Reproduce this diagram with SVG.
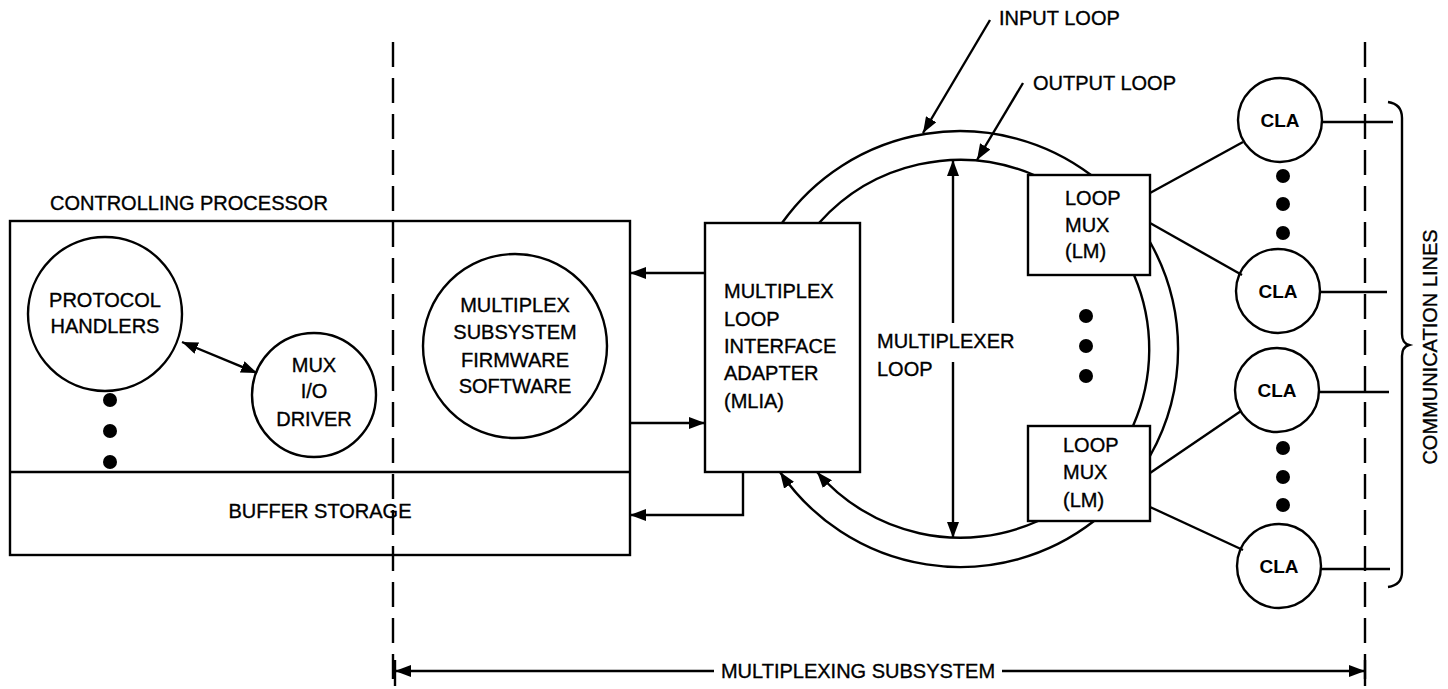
<svg xmlns="http://www.w3.org/2000/svg" width="1448" height="689" viewBox="0 0 1448 689">
<style>
  .ln{fill:none;stroke:#000;stroke-width:2.4}
  .dash{fill:none;stroke:#000;stroke-width:2.4;stroke-dasharray:25 11}
  .t{font-family:"Liberation Sans",Arial,Helvetica,sans-serif;font-size:20px;fill:#000;stroke:#000;stroke-width:0.35}
  .c{text-anchor:middle}
  .b{font-weight:bold;font-size:19px;stroke-width:0}
  .dot{fill:#000}
</style>
<defs>
  <marker id="ah" viewBox="0 0 16 12" refX="16" refY="6" markerWidth="16" markerHeight="12" markerUnits="userSpaceOnUse" orient="auto-start-reverse">
    <path d="M0,0 L16,6 L0,12 z" fill="#000"/>
  </marker>
</defs>
<rect width="1448" height="689" fill="#fff"/>

<g id="boundaries">
  <line class="dash" x1="393" y1="42" x2="393" y2="688"/>
  <line class="dash" x1="1365" y1="42" x2="1365" y2="688"/>
</g>

<g id="controlling-processor">
  <text class="t" x="50" y="210">CONTROLLING PROCESSOR</text>
  <rect class="ln" x="10" y="221" width="620" height="334"/>
  <line class="ln" x1="10" y1="472" x2="630" y2="472"/>
</g>

<g id="buffer-storage">
  <text class="t c" x="320" y="518">BUFFER STORAGE</text>
</g>

<g id="protocol-handlers">
  <circle class="ln" cx="105" cy="314" r="77"/>
  <text class="t c" x="105" y="307">PROTOCOL</text>
  <text class="t c" x="105" y="333">HANDLERS</text>
  <circle class="dot" cx="110" cy="400" r="7"/>
  <circle class="dot" cx="110" cy="431" r="7"/>
  <circle class="dot" cx="110" cy="462" r="7"/>
</g>

<g id="mux-io-driver">
  <circle class="ln" cx="314" cy="395" r="62"/>
  <text class="t c" x="314" y="372">MUX</text>
  <text class="t c" x="314" y="398">I/O</text>
  <text class="t c" x="314" y="426">DRIVER</text>
</g>

<g id="firmware">
  <circle class="ln" cx="515" cy="346" r="92"/>
  <text class="t c" x="515" y="312">MULTIPLEX</text>
  <text class="t c" x="515" y="339">SUBSYSTEM</text>
  <text class="t c" x="515" y="367">FIRMWARE</text>
  <text class="t c" x="515" y="393">SOFTWARE</text>
</g>

<g id="mlia">
  <rect class="ln" x="705" y="223" width="155" height="249"/>
  <text class="t" x="724" y="298">MULTIPLEX</text>
  <text class="t" x="724" y="326">LOOP</text>
  <text class="t" x="724" y="353">INTERFACE</text>
  <text class="t" x="724" y="380">ADAPTER</text>
  <text class="t" x="724" y="408">(MLIA)</text>
</g>

<g id="multiplexer-loop">
  <path class="ln" d="M782 223 A218 218 0 0 1 1091 175"/>
  <path class="ln" d="M1150 242 A218 218 0 0 1 1150 456"/>
  <path class="ln" d="M1094 521 A218 218 0 0 1 780 472" marker-end="url(#ah)"/>
  <path class="ln" d="M819 223 A189 189 0 0 1 1034 175"/>
  <path class="ln" d="M1134 275 A189 189 0 0 1 1133 426"/>
  <path class="ln" d="M1038 521 A189 189 0 0 1 817 472" marker-end="url(#ah)"/>
  <text class="t" x="877" y="348">MULTIPLEXER</text>
  <text class="t" x="877" y="376">LOOP</text>
  <circle class="dot" cx="1086" cy="316" r="7"/>
  <circle class="dot" cx="1086" cy="346" r="7"/>
  <circle class="dot" cx="1086" cy="376" r="7"/>
</g>

<g id="input-loop-label">
  <text class="t" x="999" y="25">INPUT LOOP</text>
</g>
<g id="output-loop-label">
  <text class="t" x="1033" y="90">OUTPUT LOOP</text>
</g>

<g id="lm-upper">
  <rect class="ln" x="1028" y="175" width="122" height="100"/>
  <text class="t" x="1065" y="205">LOOP</text>
  <text class="t" x="1065" y="232">MUX</text>
  <text class="t" x="1065" y="258">(LM)</text>
</g>

<g id="lm-lower">
  <rect class="ln" x="1028" y="426" width="122" height="95"/>
  <text class="t" x="1063" y="452">LOOP</text>
  <text class="t" x="1063" y="479">MUX</text>
  <text class="t" x="1063" y="507">(LM)</text>
</g>

<g id="cla-1">
  <circle class="ln" cx="1280" cy="120" r="42"/>
  <text class="t c b" x="1280" y="127">CLA</text>
</g>
<g id="cla-2">
  <circle class="ln" cx="1278" cy="291" r="42"/>
  <text class="t c b" x="1278" y="298">CLA</text>
</g>
<g id="cla-3">
  <circle class="ln" cx="1277" cy="390" r="42"/>
  <text class="t c b" x="1277" y="397">CLA</text>
</g>
<g id="cla-4">
  <circle class="ln" cx="1279" cy="566" r="42"/>
  <text class="t c b" x="1279" y="573">CLA</text>
</g>

<g id="cla-dots">
  <circle class="dot" cx="1283" cy="176" r="7"/>
  <circle class="dot" cx="1283" cy="204" r="7"/>
  <circle class="dot" cx="1283" cy="233" r="7"/>
  <circle class="dot" cx="1283" cy="448" r="7"/>
  <circle class="dot" cx="1283" cy="477" r="7"/>
  <circle class="dot" cx="1283" cy="505" r="7"/>
</g>

<g id="communication-lines">
  <path class="ln" d="M1388 102 Q1402 104 1402 118 L1402 334 Q1402 343 1409 345 Q1402 347 1402 356 L1402 572 Q1402 585 1388 587"/>
  <text class="t c" transform="translate(1437,347) rotate(-90)">COMMUNICATION  LINES</text>
</g>

<g id="multiplexing-subsystem">
  <line class="ln" x1="395" y1="660" x2="395" y2="686"/>
  <line class="ln" x1="1365" y1="660" x2="1365" y2="686"/>
  <text class="t c" x="858" y="678">MULTIPLEXING SUBSYSTEM</text>
</g>

<g id="connectors">
  <line class="ln" x1="182" y1="342" x2="257" y2="373" marker-start="url(#ah)" marker-end="url(#ah)"/>
  <line class="ln" x1="705" y1="273" x2="630" y2="273" marker-end="url(#ah)"/>
  <line class="ln" x1="630" y1="423" x2="705" y2="423" marker-end="url(#ah)"/>
  <polyline class="ln" points="743,472 743,515 630,515" marker-end="url(#ah)"/>
  <line class="ln" x1="953" y1="323" x2="953" y2="160" marker-end="url(#ah)"/>
  <line class="ln" x1="953" y1="362" x2="953" y2="538" marker-end="url(#ah)"/>
  <line class="ln" x1="990" y1="20" x2="923" y2="133" marker-end="url(#ah)"/>
  <line class="ln" x1="1023" y1="83" x2="977" y2="160" marker-end="url(#ah)"/>
  <line class="ln" x1="1150" y1="193" x2="1243" y2="142"/>
  <line class="ln" x1="1150" y1="223" x2="1242" y2="275"/>
  <line class="ln" x1="1150" y1="473" x2="1241" y2="411"/>
  <line class="ln" x1="1150" y1="507" x2="1243" y2="550"/>
  <line class="ln" x1="1322" y1="122" x2="1393" y2="122"/>
  <line class="ln" x1="1320" y1="292" x2="1387" y2="292"/>
  <line class="ln" x1="1319" y1="392" x2="1389" y2="392"/>
  <line class="ln" x1="1321" y1="569" x2="1390" y2="569"/>
  <line class="ln" x1="395" y1="671" x2="714" y2="671" marker-start="url(#ah)"/>
  <line class="ln" x1="1002" y1="671" x2="1365" y2="671" marker-end="url(#ah)"/>
</g>
</svg>
